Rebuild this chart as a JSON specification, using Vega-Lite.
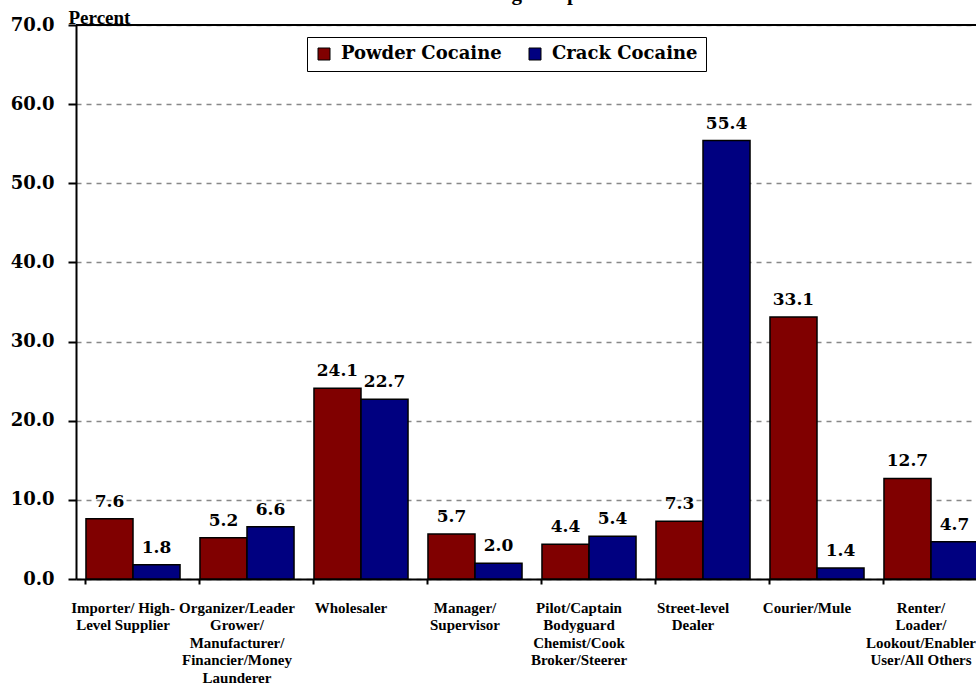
{
  "$schema": "https://vega.github.io/schema/vega-lite/v6.json",
  "width": 912,
  "height": 554,
  "autosize": {"type": "none"},
  "padding": {"left": 76, "top": 25, "right": -12, "bottom": 108},
  "background": "white",
  "config": {"view": {"stroke": null}},
  "title": {
    "text": "FY2005 Drug Sample",
    "font": "Liberation Serif",
    "fontSize": 21,
    "fontWeight": "bold",
    "color": "black",
    "anchor": "middle",
    "dx": -35,
    "dy": 15,
    "baseline": "alphabetic",
    "offset": 2
  },
  "data": {
    "values": [
      {"category": "Importer/ High-|Level Supplier", "drug": "Powder Cocaine", "value": 7.6},
      {"category": "Importer/ High-|Level Supplier", "drug": "Crack Cocaine", "value": 1.8},
      {"category": "Organizer/Leader|Grower/|Manufacturer/|Financier/Money|Launderer", "drug": "Powder Cocaine", "value": 5.2},
      {"category": "Organizer/Leader|Grower/|Manufacturer/|Financier/Money|Launderer", "drug": "Crack Cocaine", "value": 6.6},
      {"category": "Wholesaler", "drug": "Powder Cocaine", "value": 24.1},
      {"category": "Wholesaler", "drug": "Crack Cocaine", "value": 22.7},
      {"category": "Manager/|Supervisor", "drug": "Powder Cocaine", "value": 5.7},
      {"category": "Manager/|Supervisor", "drug": "Crack Cocaine", "value": 2.0},
      {"category": "Pilot/Captain|Bodyguard|Chemist/Cook|Broker/Steerer", "drug": "Powder Cocaine", "value": 4.4},
      {"category": "Pilot/Captain|Bodyguard|Chemist/Cook|Broker/Steerer", "drug": "Crack Cocaine", "value": 5.4},
      {"category": "Street-level|Dealer", "drug": "Powder Cocaine", "value": 7.3},
      {"category": "Street-level|Dealer", "drug": "Crack Cocaine", "value": 55.4},
      {"category": "Courier/Mule", "drug": "Powder Cocaine", "value": 33.1},
      {"category": "Courier/Mule", "drug": "Crack Cocaine", "value": 1.4},
      {"category": "Renter/|Loader/|Lookout/Enabler|User/All Others", "drug": "Powder Cocaine", "value": 12.7},
      {"category": "Renter/|Loader/|Lookout/Enabler|User/All Others", "drug": "Crack Cocaine", "value": 4.7}
    ]
  },
  "layer": [
    {
      "encoding": {
        "x": {
          "field": "category",
          "type": "nominal",
          "sort": null,
          "scale": {"paddingInner": 0.175, "paddingOuter": 0.0875},
          "axis": {
            "title": null,
            "labelAngle": 0,
            "labelExpr": "split(datum.label, '|')",
            "labelFont": "Liberation Serif",
            "labelFontSize": 15,
            "labelFontWeight": "bold",
            "labelColor": "black",
            "labelLineHeight": 17.5,
            "labelBaseline": "top",
            "labelPadding": 16,
            "labelOffset": -10,
            "labelLimit": 0,
            "bandPosition": 0,
            "tickSize": 5,
            "tickColor": "black",
            "tickWidth": 2,
            "domainColor": "black",
            "domainWidth": 2,
            "grid": false
          }
        },
        "xOffset": {"field": "drug", "type": "nominal", "sort": ["Powder Cocaine", "Crack Cocaine"]},
        "y": {
          "field": "value",
          "type": "quantitative",
          "title": "Percent",
          "scale": {"domain": [0, 70], "nice": false},
          "axis": {
            "values": [0, 10, 20, 30, 40, 50, 60, 70],
            "format": ".1f",
            "title": "Percent",
            "titleAngle": 0,
            "titleAlign": "left",
            "titleBaseline": "alphabetic",
            "titleX": -8,
            "titleY": -2,
            "titleFont": "Liberation Serif",
            "titleFontSize": 19,
            "titleFontWeight": "bold",
            "titleColor": "black",
            "labelFont": "DejaVu Serif",
            "labelFontSize": 18,
            "labelFontWeight": "bold",
            "labelColor": "black",
            "labelPadding": 14,
            "tickSize": 8,
            "tickColor": "black",
            "tickWidth": 2,
            "domainColor": "black",
            "domainWidth": 2,
            "grid": true,
            "gridColor": "#888888",
            "gridDash": [5, 5],
            "gridWidth": 1.5
          }
        }
      },
      "layer": [
        {
          "mark": {"type": "bar", "stroke": "black", "strokeWidth": 1.5},
          "encoding": {
            "color": {
              "field": "drug",
              "type": "nominal",
              "scale": {"domain": ["Powder Cocaine", "Crack Cocaine"], "range": ["#800000", "#000080"]},
              "legend": {
                "title": null,
                "orient": "none",
                "legendX": 231,
                "legendY": 12,
                "direction": "horizontal",
                "fillColor": "white",
                "strokeColor": "black",
                "padding": 8,
                "symbolType": "square",
                "symbolSize": 144,
                "symbolStrokeColor": "black",
                "symbolStrokeWidth": 1,
                "symbolOpacity": 1,
                "labelFont": "DejaVu Serif",
                "labelFontSize": 18,
                "labelFontWeight": "bold",
                "labelColor": "black",
                "labelOffset": 8,
                "columnPadding": 24,
                "labelLimit": 0
              }
            }
          }
        },
        {
          "mark": {"type": "text", "font": "DejaVu Serif", "fontSize": 17, "fontWeight": "bold", "color": "black", "baseline": "alphabetic", "dy": -12},
          "encoding": {
            "text": {"field": "value", "type": "quantitative", "format": ".1f"}
          }
        }
      ]
    },
    {
      "mark": {"type": "rule", "color": "black", "strokeWidth": 2},
      "encoding": {"y": {"datum": 70, "type": "quantitative", "title": "Percent"}}
    }
  ]
}
